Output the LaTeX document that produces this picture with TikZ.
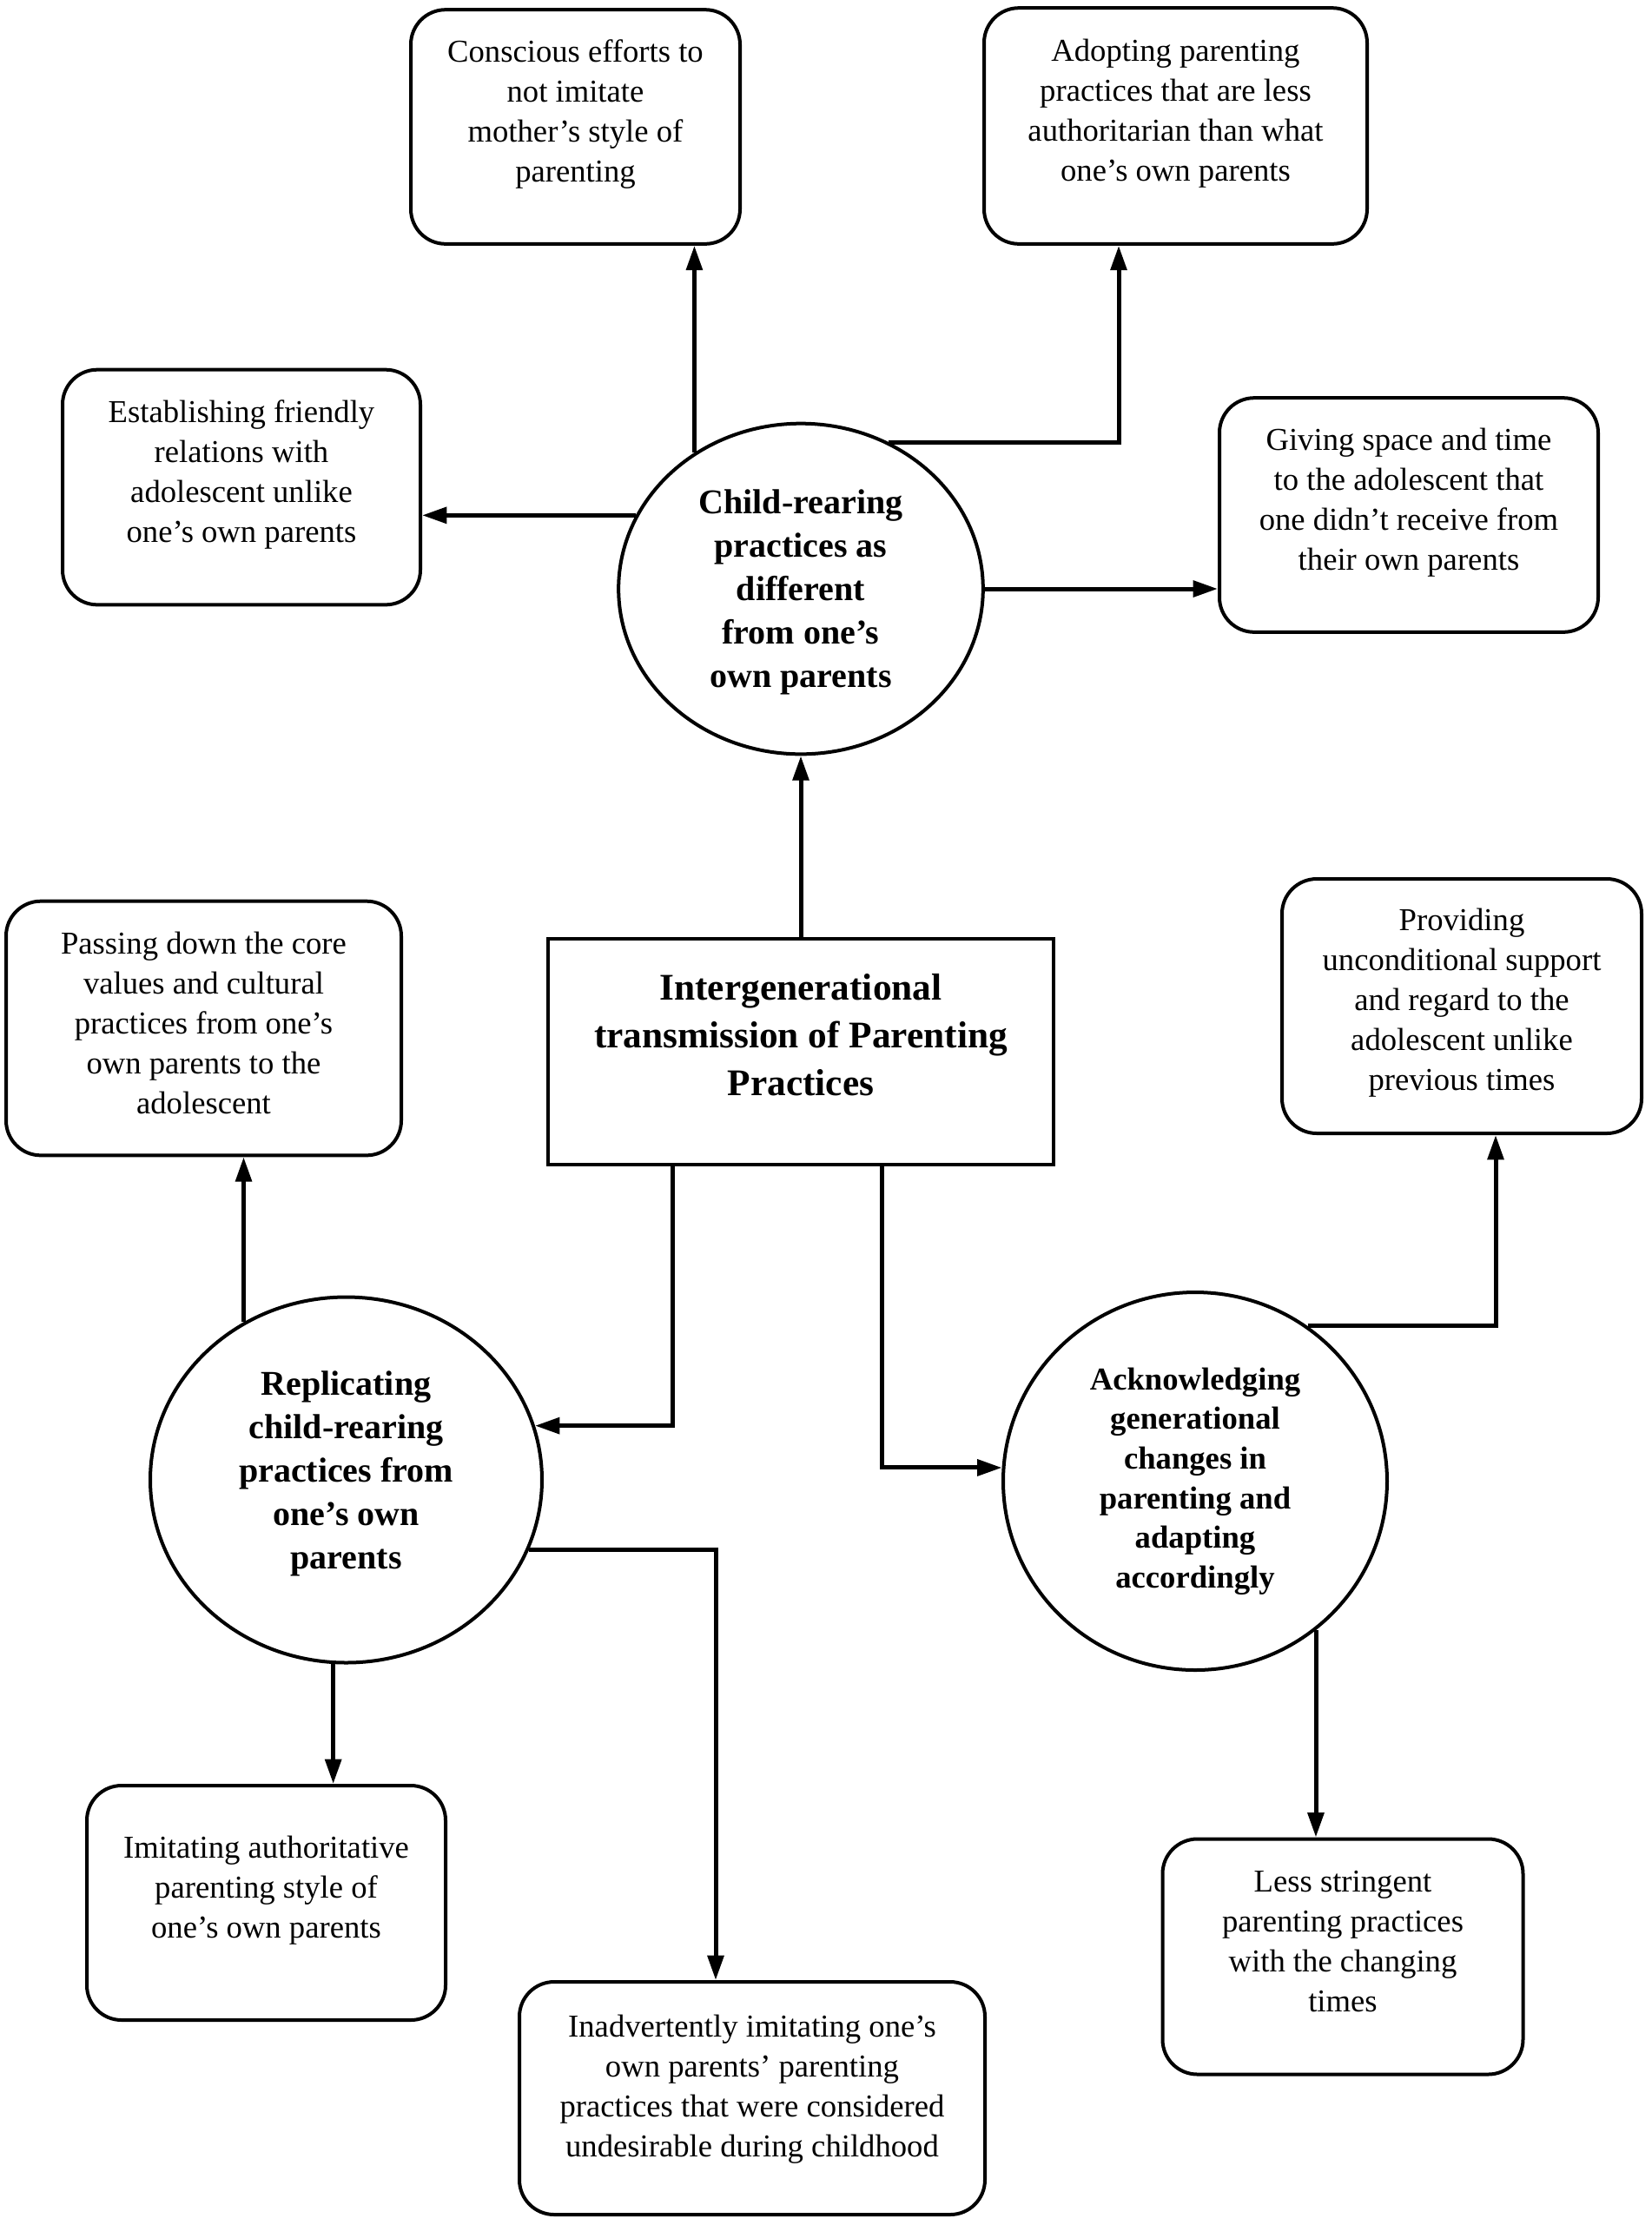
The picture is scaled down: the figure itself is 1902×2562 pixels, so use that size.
\documentclass[tikz,border=0pt]{standalone}
\usepackage{fontspec}
\setmainfont{Liberation Serif}
\usetikzlibrary{arrows.meta}
\usetikzlibrary{shapes.geometric}

\begin{document}
\begin{tikzpicture}[x=0.3pt,y=-0.3pt,every node/.style={align=center},
    idea/.style={draw,line width=1.2pt,rounded corners=12pt,font=\fontsize{11}{13.8}\selectfont,text depth=11pt},
    theme/.style={draw,ellipse,line width=1.2pt,inner sep=0pt,font=\fontsize{12}{15}\selectfont\bfseries},
    core/.style={draw,line width=1.2pt,font=\fontsize{13}{16.5}\selectfont\bfseries,text depth=12pt},
    link/.style={line width=1.5pt,-{Triangle[length=8.5pt,width=5.5pt]}}]

	\useasboundingbox (0,0) rectangle (1902,2562);

	% central box and the three themes
	\node[core,minimum width=174.6pt,minimum height=78pt] (main) at (922,1211) {Intergenerational\\transmission of Parenting\\Practices};
	\node[theme,minimum width=125.9pt,minimum height=114.2pt,text depth=0pt] (different) at (922,678) {Child-rearing\\practices as\\different\\from one's\\own parents};
	\node[theme,minimum width=135.3pt,minimum height=126.3pt,text depth=6.6pt] (replicate) at (398.5,1704) {Replicating\\child-rearing\\practices from\\one's own\\parents};
	\node[theme,minimum width=132.6pt,minimum height=130.5pt,font=\fontsize{11}{13.7}\selectfont\bfseries] (adapt) at (1376,1705.5) {Acknowledging\\generational\\changes in\\parenting and\\adapting\\accordingly};

	% sub-themes
	\node[idea,minimum width=113.7pt,minimum height=80.9pt] (conscious) at (662.5,146) {Conscious efforts to\\not imitate\\mother's style of\\parenting};
	\node[idea,minimum width=132.3pt,minimum height=81.5pt] (adopting) at (1353.5,145) {Adopting parenting\\practices that are less\\authoritarian than what\\one's own parents};
	\node[idea,minimum width=123.6pt,minimum height=81.2pt] (friendly) at (278,561) {Establishing friendly\\relations with\\adolescent unlike\\one's own parents};
	\node[idea,minimum width=130.8pt,minimum height=80.9pt] (space) at (1622,593) {Giving space and time\\to the adolescent that\\one didn't receive from\\their own parents};
	\node[idea,minimum width=136.5pt,minimum height=87.8pt,text depth=4pt] (passing) at (234.5,1184) {Passing down the core\\values and cultural\\practices from one's\\own parents to the\\adolescent};
	\node[idea,minimum width=124.2pt,minimum height=87.9pt,text depth=4.5pt] (support) at (1683,1158.5) {Providing\\unconditional support\\and regard to the\\adolescent unlike\\previous times};
	\node[idea,minimum width=123.9pt,minimum height=81pt] (authoritative) at (306.5,2191) {Imitating authoritative\\parenting style of\\one's own parents};
	\node[idea,minimum width=160.8pt,minimum height=80.4pt,text depth=8.5pt] (inadvertent) at (866,2416) {Inadvertently imitating one's\\own parents' parenting\\practices that were considered\\undesirable during childhood};
	\node[idea,minimum width=124.5pt,minimum height=81.3pt,text depth=10.5pt] (stringent) at (1546,2253) {Less stringent\\parenting practices\\with the changing\\times};

	% connectors
	\draw[link] (main.north) -- (different.south);
	\draw[link] (different.128) -- (different.128 |- conscious.south);
	\draw[link] (different.59) -| (1288,0 |- adopting.south);
	\draw[link] (different.156) -- (different.156 -| friendly.east);
	\draw[link] (different.east) -- (different.east -| space.west);
	\draw[link] (774.6,0 |- main.south) |- (replicate.16);
	\draw[link] (1015.5,0 |- main.south) |- (adapt.176);
	\draw[link] (replicate.123) -- (replicate.123 |- passing.south);
	\draw[link] (replicate.-21) -| (824,0 |- inadvertent.north);
	\draw[link] (replicate.266) -- (replicate.266 |- authoritative.north);
	\draw[link] (adapt.54) -| (1722,0 |- support.south);
	\draw[link] (adapt.-51) -- (adapt.-51 |- stringent.north);

\end{tikzpicture}
\end{document}
